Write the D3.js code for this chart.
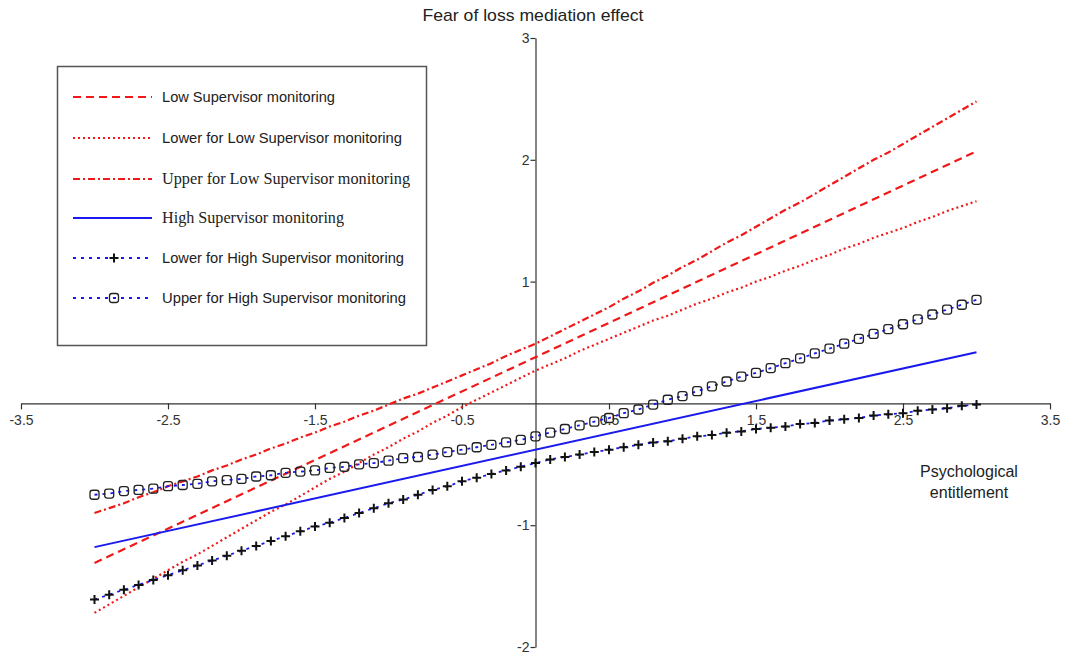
<!DOCTYPE html>
<html><head><meta charset="utf-8">
<script src="https://cdn.jsdelivr.net/npm/d3@7"></script>
<style>
html,body{margin:0;padding:0;background:#fff;}
svg{display:block;}
</style></head>
<body>
<svg id="chart" width="1065" height="656"></svg>
<script>
// ---------- data ----------
const xs = [-3.0,-2.9,-2.8,-2.7,-2.6,-2.5,-2.4,-2.3,-2.2,-2.1,-2.0,-1.9,-1.8,-1.7,-1.6,-1.5,-1.4,-1.3,-1.2,-1.1,-1.0,-0.9,-0.8,-0.7,-0.6,-0.5,-0.4,-0.3,-0.2,-0.1,0.0,0.1,0.2,0.3,0.4,0.5,0.6,0.7,0.8,0.9,1.0,1.1,1.2,1.3,1.4,1.5,1.6,1.7,1.8,1.9,2.0,2.1,2.2,2.3,2.4,2.5,2.6,2.7,2.8,2.9,3.0];
const midX = [-3.0, 3.0];
const lowMid = [-1.31, 2.07];
const highMid = [-1.18, 0.42];
const lowLower = [-1.72,-1.65,-1.58,-1.51,-1.44,-1.37,-1.30,-1.24,-1.17,-1.10,-1.03,-0.96,-0.89,-0.83,-0.76,-0.69,-0.62,-0.56,-0.49,-0.42,-0.36,-0.29,-0.23,-0.16,-0.10,-0.03,0.03,0.09,0.15,0.21,0.27,0.32,0.37,0.43,0.48,0.53,0.58,0.63,0.68,0.72,0.77,0.82,0.86,0.91,0.95,1.00,1.04,1.09,1.13,1.18,1.22,1.27,1.31,1.36,1.40,1.44,1.49,1.53,1.58,1.62,1.66];
const lowUpper = [-0.90,-0.86,-0.82,-0.77,-0.73,-0.68,-0.64,-0.60,-0.55,-0.51,-0.46,-0.42,-0.37,-0.33,-0.28,-0.24,-0.19,-0.15,-0.10,-0.06,-0.01,0.04,0.08,0.13,0.18,0.23,0.28,0.33,0.39,0.44,0.49,0.55,0.61,0.67,0.73,0.79,0.86,0.92,0.99,1.05,1.12,1.18,1.25,1.32,1.38,1.45,1.52,1.59,1.65,1.72,1.79,1.86,1.93,2.00,2.06,2.13,2.20,2.27,2.34,2.41,2.48];
const highLower = [-1.61,-1.57,-1.53,-1.49,-1.45,-1.41,-1.37,-1.33,-1.29,-1.25,-1.21,-1.17,-1.13,-1.09,-1.05,-1.01,-0.98,-0.94,-0.90,-0.86,-0.82,-0.79,-0.75,-0.71,-0.68,-0.64,-0.61,-0.58,-0.55,-0.52,-0.49,-0.46,-0.44,-0.42,-0.40,-0.38,-0.36,-0.34,-0.32,-0.31,-0.29,-0.27,-0.26,-0.24,-0.23,-0.21,-0.20,-0.19,-0.17,-0.16,-0.14,-0.13,-0.12,-0.10,-0.09,-0.08,-0.06,-0.05,-0.04,-0.02,-0.01];
const highUpper = [-0.75,-0.74,-0.72,-0.71,-0.70,-0.68,-0.67,-0.66,-0.64,-0.63,-0.62,-0.60,-0.59,-0.57,-0.56,-0.55,-0.53,-0.52,-0.50,-0.49,-0.47,-0.45,-0.44,-0.42,-0.40,-0.38,-0.36,-0.34,-0.32,-0.30,-0.27,-0.24,-0.21,-0.18,-0.15,-0.12,-0.08,-0.05,-0.01,0.03,0.06,0.10,0.14,0.18,0.22,0.25,0.29,0.33,0.37,0.41,0.45,0.49,0.53,0.57,0.61,0.65,0.69,0.73,0.77,0.81,0.85];
const xTicks = [-3.5,-2.5,-1.5,-0.5,0.5,1.5,2.5,3.5];
const yTicks = [-2,-1,1,2,3];
const xTickLabels = ["-3.5","-2.5","-1.5","-0.5","0.5","1.5","2.5","3.5"];
const yTickLabels = ["-2","-1","1","2","3"];
const legendLabels = ["Low Supervisor monitoring","Lower for Low Supervisor monitoring","Upper for Low Supervisor monitoring","High Supervisor monitoring","Lower for High Supervisor monitoring","Upper for High Supervisor monitoring"];
const titleText = "Fear of loss mediation effect";
const xTitle = ["Psychological","entitlement"];

// ---------- setup ----------
const svg = d3.select("#chart");
const x = d3.scaleLinear().domain([-3.5, 3.5]).range([21, 1050]);
const y = d3.scaleLinear().domain([-2, 3]).range([647, 38]);
const RED = "#f01818", BLUE = "#1a1aee";
const narrow = "'Liberation Sans Narrow','Arial Narrow','Liberation Sans',Arial,sans-serif";
const sans = "'Liberation Sans',Arial,sans-serif";
const serif = "'Liberation Serif','DejaVu Serif',serif";

// axes
const gx = svg.append("g").attr("transform", `translate(0,${y(0)})`)
  .call(d3.axisBottom(x).tickValues(xTicks).tickSize(6).tickSizeOuter(0)
    .tickFormat((d, i) => xTickLabels[i]));
const gy = svg.append("g").attr("transform", `translate(${x(0)},0)`)
  .call(d3.axisLeft(y).tickValues(yTicks).tickSize(5).tickSizeOuter(0)
    .tickFormat((d, i) => yTickLabels[i]));
[gx, gy].forEach(g => {
  g.selectAll("path.domain").attr("stroke", "#333").attr("stroke-width", 1.2);
  g.selectAll(".tick line").attr("stroke", "#333").attr("stroke-width", 1.2);
  g.selectAll(".tick text").attr("fill", "#333").style("font-family", narrow).style("font-size", "14px");
});
gx.selectAll(".tick text").attr("dy", "0.95em").attr("y", 8);
gy.selectAll(".tick text").attr("x", -6);

// title
svg.append("text").attr("x", 533).attr("y", 21).attr("text-anchor", "middle")
  .attr("textLength", 221).attr("lengthAdjust", "spacingAndGlyphs")
  .style("font-family", narrow).style("font-size", "17px").attr("fill", "#222").text(titleText);
// x title
xTitle.forEach((t, i) => {
  svg.append("text").attr("x", 969).attr("y", 477 + i * 21).attr("text-anchor", "middle")
    .style("font-family", sans).style("font-size", "16px").attr("fill", "#222").text(t);
});

// lines
const line = d3.line().x(d => x(d[0])).y(d => y(d[1]));
const zipped = arr => (arr.length === 2 ? midX : xs).map((v, i) => [v, arr[i]]);

const styles = [
  {data: lowMid, color: RED, dash: "8,5", width: 2.2},
  {data: lowLower, color: RED, dash: "2,3", width: 2.2},
  {data: lowUpper, color: RED, dash: "7,3,2,3", width: 2.2},
  {data: highMid, color: BLUE, dash: null, width: 2},
  {data: highLower, color: BLUE, dash: "3,5", width: 1.8, marker: "plus"},
  {data: highUpper, color: BLUE, dash: "3,5", width: 1.8, marker: "square"}
];

styles.forEach(s => {
  svg.append("path").datum(zipped(s.data)).attr("d", line)
    .attr("fill", "none").attr("stroke", s.color).attr("stroke-width", s.width)
    .attr("stroke-dasharray", s.dash);
});

function drawMarker(g, type, cx, cy) {
  if (type === "plus") {
    g.append("path").attr("d", `M${cx-4.5},${cy}H${cx+4.5}M${cx},${cy-4.5}V${cy+4.5}`)
      .attr("stroke", "#111").attr("stroke-width", 2).attr("fill", "none");
  } else {
    g.append("rect").attr("x", cx - 4.5).attr("y", cy - 4.5).attr("width", 9).attr("height", 9)
      .attr("rx", 2.5).attr("fill", "none").attr("stroke", "#222").attr("stroke-width", 1.3);
  }
}
styles.filter(s => s.marker).forEach(s => {
  const g = svg.append("g");
  zipped(s.data).forEach(d => drawMarker(g, s.marker, x(d[0]), y(d[1])));
});

// legend
const lg = svg.append("g");
lg.append("rect").attr("x", 57.5).attr("y", 66.5).attr("width", 369).attr("height", 279)
  .attr("fill", "#fff").attr("stroke", "#555").attr("stroke-width", 1.5);
const rowY = [97, 138, 179, 218, 258, 298];
const legendFonts = [sans, sans, serif, serif, sans, sans];
const legendLens = [173, 240, 248, 182, 242, 244];
legendLabels.forEach((lab, i) => {
  const s = styles[i];
  const yy = rowY[i];
  lg.append("line").attr("x1", 73).attr("x2", 152).attr("y1", yy).attr("y2", yy)
    .attr("stroke", s.color).attr("stroke-width", s.width).attr("stroke-dasharray", s.dash);
  if (s.marker) drawMarker(lg, s.marker, 114, yy);
  lg.append("text").attr("x", 162).attr("y", yy + 5)
    .attr("textLength", legendLens[i]).attr("lengthAdjust", "spacingAndGlyphs")
    .style("font-family", legendFonts[i]).style("font-size", legendFonts[i] === serif ? "16px" : "14.5px")
    .attr("fill", "#222").text(lab);
});
</script>
</body></html>
